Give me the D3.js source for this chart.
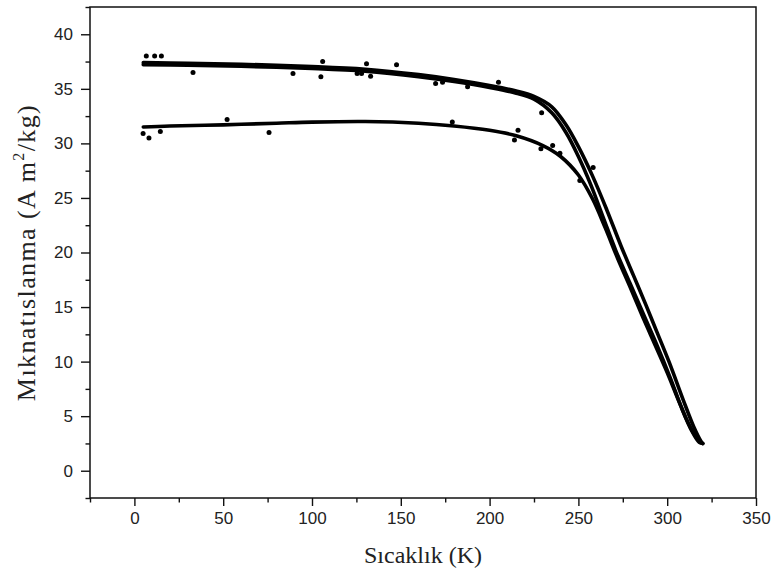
<!DOCTYPE html>
<html>
<head>
<meta charset="utf-8">
<script src="https://cdn.jsdelivr.net/npm/d3@7"></script>
<style>
  html, body { margin: 0; padding: 0; background: #fff; }
  svg { display: block; }
</style>
</head>
<body>
<svg id="chart" width="774" height="576"></svg>
<script>
// ---- Data ----
const xTicks = [0, 50, 100, 150, 200, 250, 300, 350];
const yTicks = [0, 5, 10, 15, 20, 25, 30, 35, 40];

// Lower branch (zero-field-cooled like)
const lowerT = [5, 20, 50, 80, 100, 130, 160, 180, 200, 215, 230, 240, 250, 258, 265, 272, 280, 287, 293, 300, 306, 312, 317, 320];
const lowerM = [31.5, 31.6, 31.7, 31.85, 31.95, 32.0, 31.85, 31.6, 31.2, 30.7, 29.8, 28.8, 27.1, 24.9, 22.3, 19.5, 16.5, 13.8, 11.6, 9.0, 6.6, 4.3, 2.9, 2.5];

// Upper branch, outer strand
const upperOuterT = [5, 30, 60, 100, 130, 160, 180, 200, 215, 225, 235, 243, 250, 258, 266, 274, 281, 288, 294, 301, 309, 315, 319, 320];
const upperOuterM = [37.4, 37.35, 37.25, 37.05, 36.8, 36.3, 35.85, 35.3, 34.8, 34.3, 33.35, 31.7, 29.7, 27.0, 23.9, 20.6, 17.9, 15.2, 12.8, 10.0, 6.5, 4.0, 2.7, 2.5];

// Upper branch, inner strand
const upperInnerT = [5, 30, 60, 100, 130, 160, 180, 200, 215, 225, 235, 243, 250, 257, 264, 271, 279, 287, 294, 302, 308, 314, 318, 320];
const upperInnerM = [37.22, 37.17, 37.07, 36.87, 36.62, 36.12, 35.67, 35.12, 34.6, 34.05, 32.8, 31.0, 28.8, 26.2, 23.2, 20.2, 17.2, 14.2, 11.6, 8.4, 5.8, 3.6, 2.6, 2.5];

// Scattered outlier points
const outlierT = [6.7, 11.4, 15.2, 33, 89.3, 106, 105, 130.7, 125.4, 127.9, 133, 147.6, 169.6, 173.5, 187.6, 205, 229.3,
                  4.9, 8.2, 14.6, 75.8, 52.2, 179, 216, 214, 228.9, 235.5, 239.6, 250.8, 258.3];
const outlierM = [38.0, 38.0, 38.0, 36.5, 36.4, 37.5, 36.1, 37.3, 36.4, 36.4, 36.15, 37.2, 35.5, 35.6, 35.2, 35.6, 32.8,
                  30.9, 30.5, 31.1, 31.0, 32.2, 31.95, 31.2, 30.3, 29.5, 29.8, 29.1, 26.6, 27.8];

// ---- Layout ----
const svg = d3.select("#chart");
const margin = {left: 90, top: 7, right: 18, bottom: 78};
const W = 774, H = 576;
const iw = W - margin.left - margin.right;
const ih = H - margin.top - margin.bottom;

const x = d3.scaleLinear().domain([-25, 350]).range([margin.left, margin.left + iw]);
const y = d3.scaleLinear().domain([-2.5, 42.5]).range([margin.top + ih, margin.top]);

const tickFont = "'Liberation Sans', Arial, sans-serif";
const titleFont = "'Liberation Serif', 'Times New Roman', serif";

// Minor ticks
const xMinor = d3.range(-25, 351, 25).filter(v => !xTicks.includes(v));
const yMinor = d3.range(-2.5, 42.6, 2.5).filter(v => !yTicks.includes(v));

const gx = svg.append("g").attr("transform", `translate(0,${margin.top + ih})`);
gx.call(d3.axisBottom(x).tickValues(xMinor).tickSize(4.5).tickFormat(""));
gx.append("g").call(d3.axisBottom(x).tickValues(xTicks).tickSize(8).tickPadding(6).tickFormat(d3.format("d")));
gx.selectAll(".domain").remove();
gx.selectAll("line").attr("stroke", "#111").attr("stroke-width", 1.4);
gx.selectAll("text").attr("font-family", tickFont).attr("font-size", 17).attr("fill", "#222");

const gy = svg.append("g").attr("transform", `translate(${margin.left},0)`);
gy.call(d3.axisLeft(y).tickValues(yMinor).tickSize(4.5).tickFormat(""));
gy.append("g").call(d3.axisLeft(y).tickValues(yTicks).tickSize(9).tickPadding(8).tickFormat(d3.format("d")));
gy.selectAll(".domain").remove();
gy.selectAll("line").attr("stroke", "#111").attr("stroke-width", 1.4);
gy.selectAll("text").attr("font-family", tickFont).attr("font-size", 17).attr("fill", "#222");

// Frame
svg.append("rect")
  .attr("x", margin.left).attr("y", margin.top)
  .attr("width", iw).attr("height", ih)
  .attr("fill", "none").attr("stroke", "#111").attr("stroke-width", 1.5);

// Curves
const line = d3.line().x(d => x(d[0])).y(d => y(d[1])).curve(d3.curveCatmullRom.alpha(0.5));
const series = [
  {T: lowerT, M: lowerM, w: 3.6},
  {T: upperOuterT, M: upperOuterM, w: 3.6},
  {T: upperInnerT, M: upperInnerM, w: 3.6}
];
series.forEach(s => {
  svg.append("path")
    .datum(s.T.map((t, i) => [t, s.M[i]]))
    .attr("d", line)
    .attr("fill", "none")
    .attr("stroke", "#000")
    .attr("stroke-width", s.w)
    .attr("stroke-linejoin", "round")
    .attr("stroke-linecap", "round");
});

// Outlier dots
svg.append("g").selectAll("circle")
  .data(outlierT.map((t, i) => [t, outlierM[i]]))
  .join("circle")
  .attr("cx", d => x(d[0]))
  .attr("cy", d => y(d[1]))
  .attr("r", 2.5)
  .attr("fill", "#000");

// Axis titles
svg.append("text")
  .attr("x", x(162.5)).attr("y", 563)
  .attr("text-anchor", "middle")
  .attr("font-family", titleFont)
  .attr("font-size", 24)
  .attr("fill", "#222")
  .text("Sıcaklık (K)");

const yt = svg.append("text")
  .attr("transform", `translate(35,${(margin.top + margin.top + ih) / 2}) rotate(-90)`)
  .attr("text-anchor", "middle")
  .attr("font-family", titleFont)
  .attr("font-size", 26)
  .attr("letter-spacing", 1.4)
  .attr("fill", "#222");
yt.append("tspan").text("Mıknatıslanma (A m");
yt.append("tspan").attr("font-size", 16).attr("dy", -11).text("2");
yt.append("tspan").attr("dy", 11).text("/kg)");
</script>
</body>
</html>
